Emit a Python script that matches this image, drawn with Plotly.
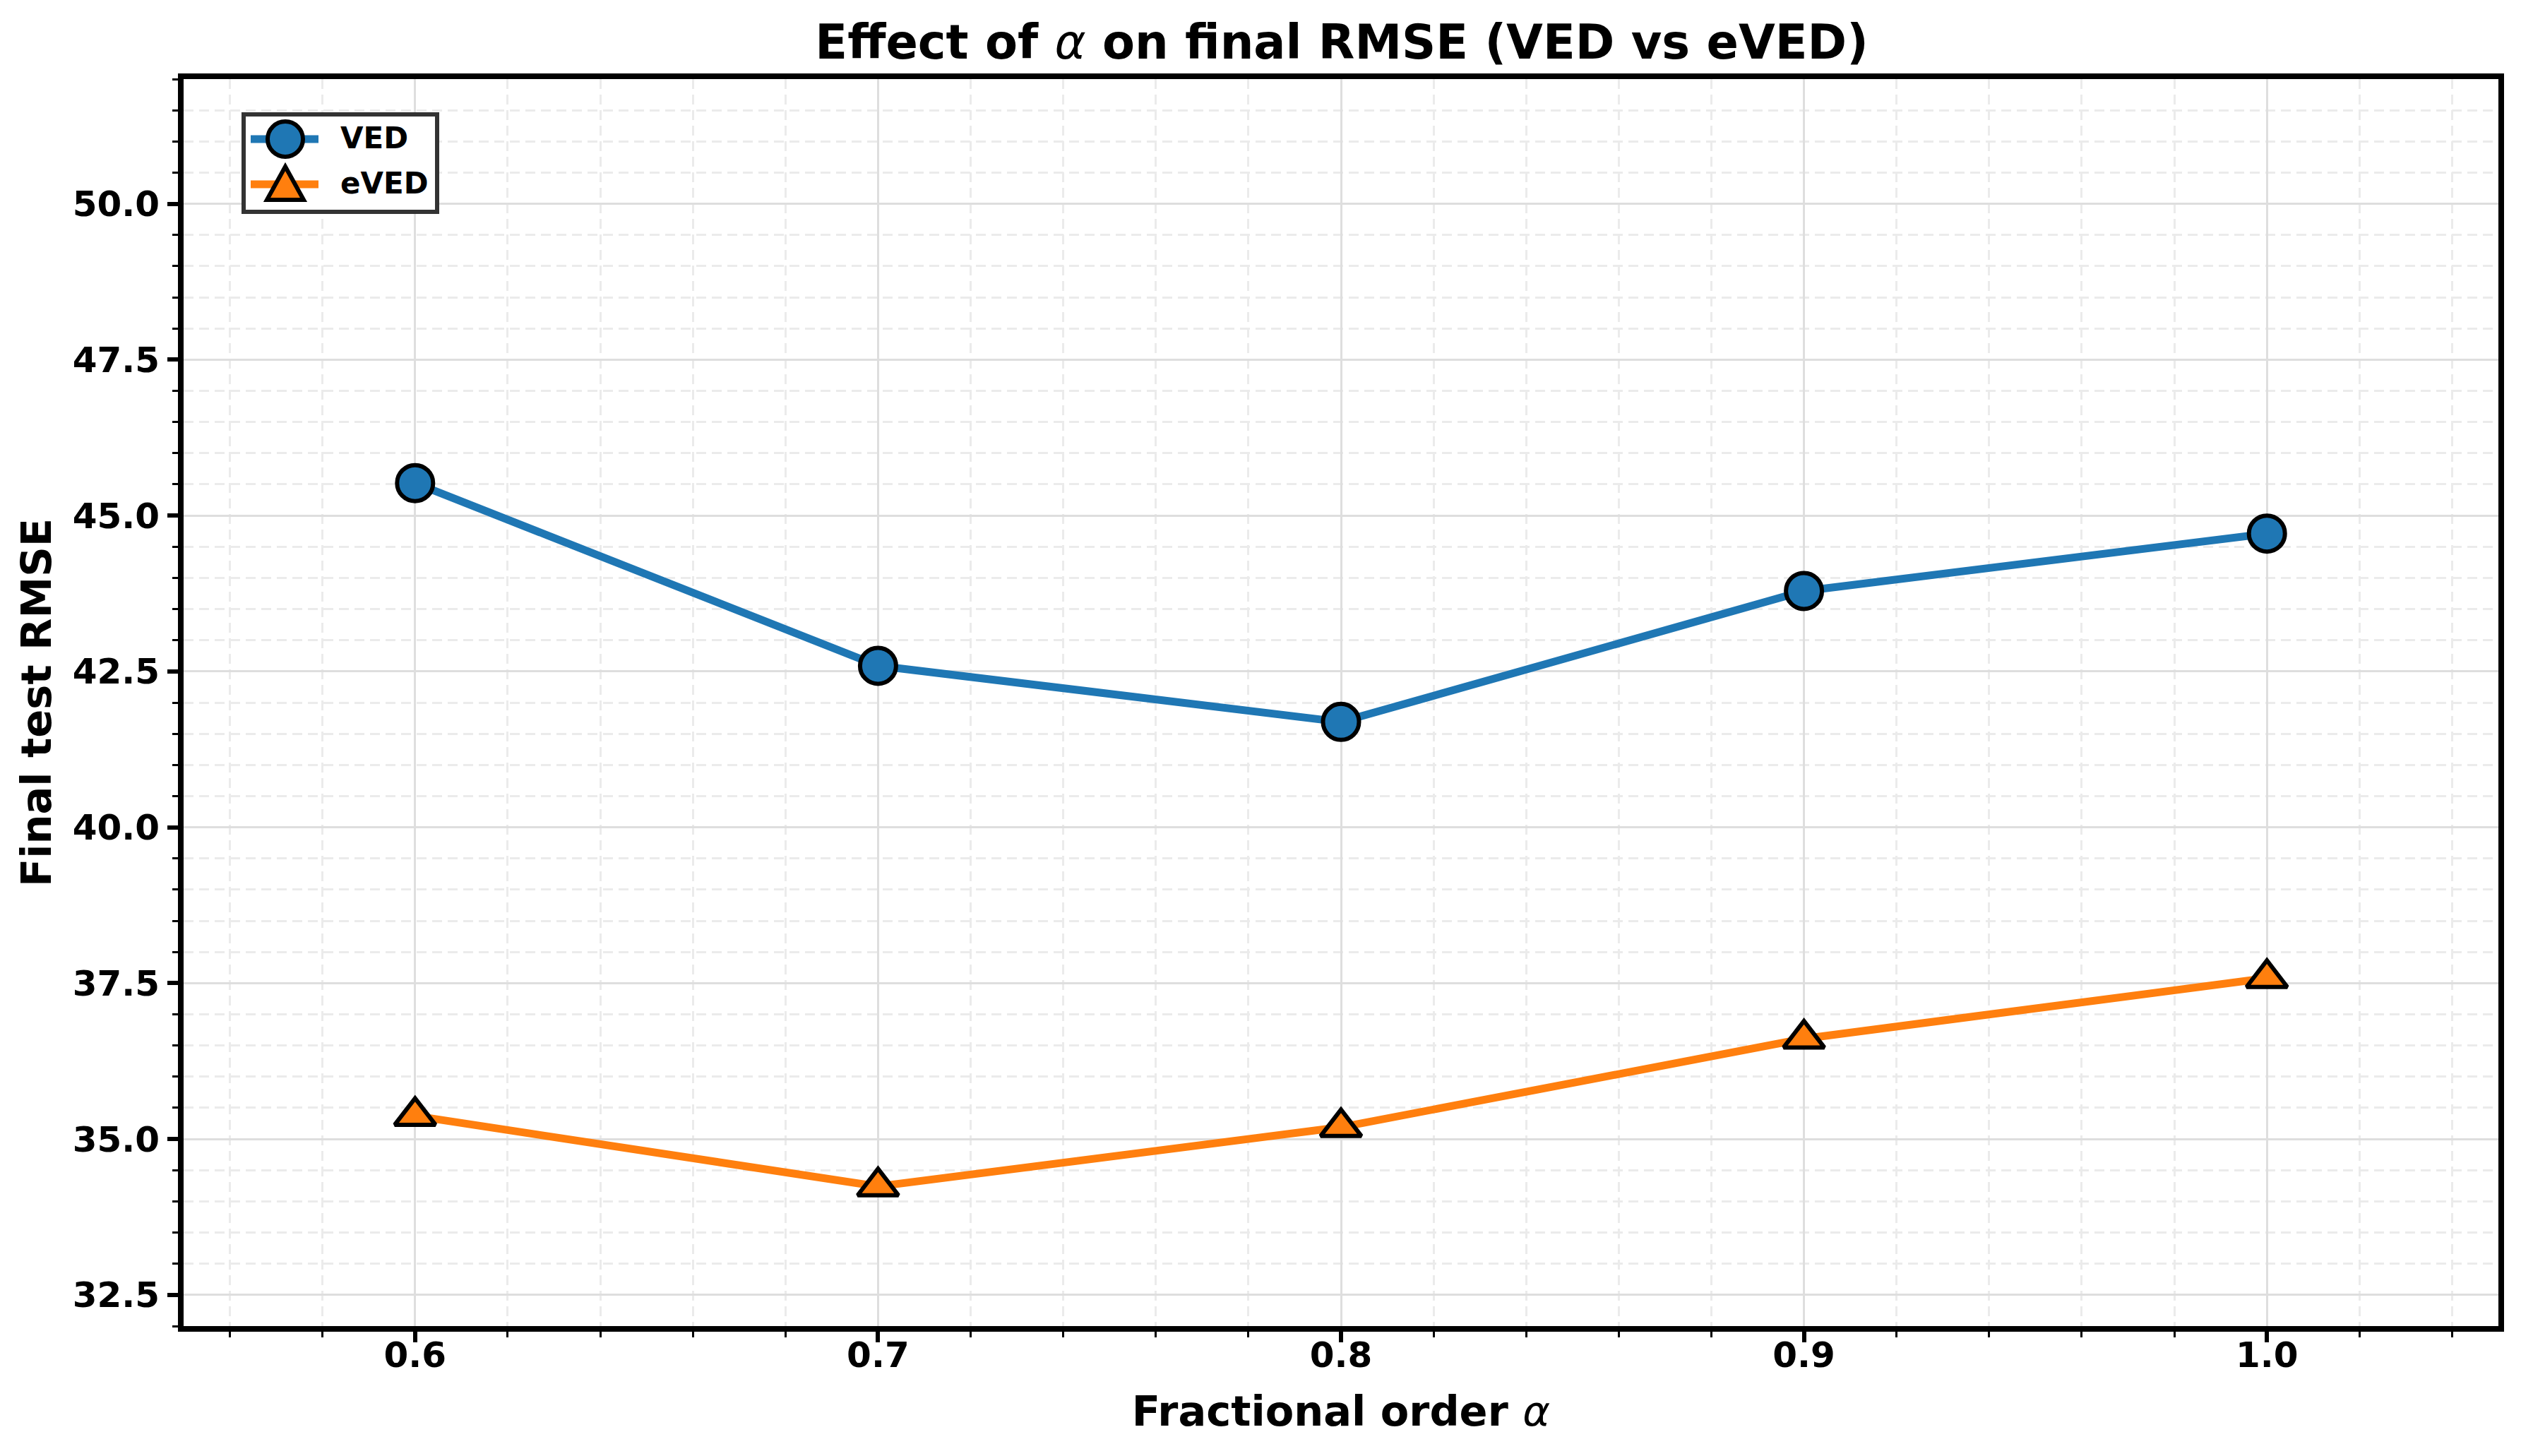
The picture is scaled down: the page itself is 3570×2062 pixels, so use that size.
import plotly.graph_objects as go

# ---- data ----
alpha = [0.6, 0.7, 0.8, 0.9, 1.0]
ved = [45.52, 42.59, 41.69, 43.79, 44.71]
eved = [35.37, 34.24, 35.19, 36.61, 37.58]
series_names = ["VED", "eVED"]
series_colors = ["#1f77b4", "#ff7f0e"]
x_ticks = [0.6, 0.7, 0.8, 0.9, 1.0]
x_tick_labels = ["0.6", "0.7", "0.8", "0.9", "1.0"]
y_ticks = [32.5, 35.0, 37.5, 40.0, 42.5, 45.0, 47.5, 50.0]
y_tick_labels = ["32.5", "35.0", "37.5", "40.0", "42.5", "45.0", "47.5", "50.0"]

FONT = "DejaVu Sans"
W, H = 3570, 2062

fig = go.Figure()
fig.add_trace(go.Scatter(
    x=alpha, y=ved, name=series_names[0], mode="lines+markers",
    line=dict(color=series_colors[0], width=11),
    marker=dict(symbol="circle", size=51, color=series_colors[0],
                line=dict(color="black", width=6)),
))
fig.add_trace(go.Scatter(
    x=alpha, y=eved, name=series_names[1], mode="lines+markers",
    line=dict(color=series_colors[1], width=11),
    marker=dict(symbol="triangle-up", size=50, color=series_colors[1],
                line=dict(color="black", width=6)),
))

axis_common = dict(
    showline=True, linecolor="black", linewidth=8, mirror=True,
    ticks="outside", ticklen=15, tickwidth=6, tickcolor="black",
    showgrid=True, gridcolor="#dedede", gridwidth=3,
    zeroline=False,
    tickfont=dict(family=FONT, size=50, color="black", weight="bold"),
)

minor_grid = dict(ticks="outside", ticklen=8, tickwidth=3, tickcolor="black",
                  showgrid=True, gridcolor="#ebebeb", gridwidth=3,
                  griddash="14px,8px")

# ---- legend (drawn as a matplotlib-style boxed legend) ----
LG_FONT = dict(family=FONT, size=42, color="black", weight="bold")
DX, DY = -6, -9
shapes = [
    dict(type="rect", xref="paper", yref="paper", xsizemode="pixel", ysizemode="pixel",
         xanchor=0, yanchor=1, x0=91 + DX, x1=365 + DX, y0=-197 - DY, y1=-59 - DY,
         line=dict(color="#333333", width=6), fillcolor="white", layer="above"),
]
row_y = [-94 - DY, -158 - DY]
for i, name in enumerate(series_names):
    shapes.append(dict(type="line", xref="paper", yref="paper", xsizemode="pixel",
                       ysizemode="pixel", xanchor=0, yanchor=1,
                       x0=101 + DX, x1=197 + DX, y0=row_y[i], y1=row_y[i],
                       line=dict(color=series_colors[i], width=11), layer="above"))
shapes.append(dict(type="circle", xref="paper", yref="paper", xsizemode="pixel",
                   ysizemode="pixel", xanchor=0, yanchor=1,
                   x0=125 + DX, x1=175 + DX, y0=row_y[0] - 25, y1=row_y[0] + 25,
                   fillcolor=series_colors[0], line=dict(color="black", width=6),
                   layer="above"))
ty = row_y[1]
shapes.append(dict(type="path", xref="paper", yref="paper", xsizemode="pixel",
                   ysizemode="pixel", xanchor=0, yanchor=1,
                   path=f"M {150 + DX} {ty + 25} L {124 + DX} {ty - 22} L {176 + DX} {ty - 22} Z",
                   fillcolor=series_colors[1], line=dict(color="black", width=6),
                   layer="above"))
annotations = []
for i, name in enumerate(series_names):
    annotations.append(dict(text=name, xref="paper", yref="paper", x=0, y=1,
                            xanchor="left", yanchor="middle", xshift=226 + DX,
                            yshift=row_y[i] + 2, showarrow=False, font=LG_FONT))

fig.update_layout(
    width=W, height=H,
    paper_bgcolor="white", plot_bgcolor="white",
    margin=dict(l=252, r=40, t=104, b=192),
    font=dict(family=FONT, color="black"),
    showlegend=False,
    title=dict(
        text="Effect of <span style=\"font-weight:normal\"><i>α</i></span> on final RMSE (VED vs eVED)",
        x=0.530, xanchor="center", y=0.975, yanchor="middle",
        font=dict(family=FONT, size=67, color="black", weight="bold"),
    ),
    xaxis=dict(
        range=[0.55, 1.05], tickvals=x_ticks, ticktext=x_tick_labels,
        ticklabelstandoff=-25,
        title=dict(text="Fractional order <span style=\"font-weight:normal\"><i>α</i></span>",
                   font=dict(family=FONT, size=59, color="black", weight="bold"),
                   standoff=34),
        minor=dict(dtick=0.02, tick0=0.0, **minor_grid),
        **axis_common,
    ),
    yaxis=dict(
        range=[32.0, 52.0], tickvals=y_ticks, ticktext=y_tick_labels,
        ticklabelstandoff=1,
        title=dict(text="Final test RMSE",
                   font=dict(family=FONT, size=59, color="black", weight="bold"),
                   standoff=14),
        minor=dict(dtick=0.5, tick0=0.0, **minor_grid),
        **axis_common,
    ),
    shapes=shapes,
    annotations=annotations,
)

fig.write_html("out.html")
